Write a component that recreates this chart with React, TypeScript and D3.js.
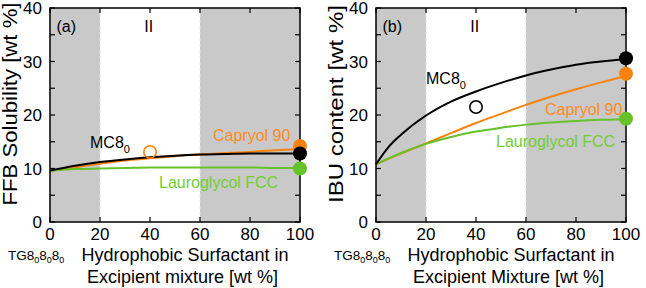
import React from "react";
import * as d3 from "d3";

const xSample = [0, 10, 20, 30, 40, 50, 60, 70, 80, 90, 100];

// Panel (a): FFB solubility
const aMC8 = [9.6, 10.5, 11.2, 11.7, 12.1, 12.4, 12.6, 12.7, 12.8, 12.8, 12.8];
const aCapryol = [9.6, 10.2, 10.9, 11.5, 11.9, 12.3, 12.6, 12.9, 13.1, 13.4, 13.6];
const aLauro = [9.6, 9.9, 10.0, 10.1, 10.2, 10.2, 10.2, 10.2, 10.2, 10.1, 10.1];
const aEndDots = { mc8: 12.8, capryol: 14.2, lauro: 10.0 };
const aOpen = { x: 40, y: 13.1 };

// Panel (b): IBU content
const bX = [0, 5, 10, 20, 30, 40, 50, 60, 70, 80, 90, 100];
const bMC8 = [10.8, 14.0, 16.3, 19.9, 22.5, 24.4, 26.0, 27.4, 28.5, 29.4, 30.0, 30.4];
const bCapryol = [10.8, 11.8, 12.8, 14.7, 16.6, 18.5, 20.2, 21.9, 23.4, 24.8, 26.1, 27.3];
const bLauro = [10.8, 11.9, 12.9, 14.6, 15.9, 16.9, 17.6, 18.2, 18.6, 18.9, 19.1, 19.2];
const bEndDots = { mc8: 30.6, capryol: 27.7, lauro: 19.3 };
const bOpen = { x: 40, y: 21.5 };

const xTicks = [0, 20, 40, 60, 80, 100];
const yTicks = [0, 10, 20, 30, 40];
const yMinor = [5, 15, 25, 35];

const BLACK = "#000";
const ORANGE = "#f7820f";
const ORANGE_T = "#ff8c1e";
const GREEN = "#66c22a";
const GREEN_T = "#6fcf2e";
const GRAY = "#c9c9c9";
const FONT = "'Liberation Sans', Arial, Helvetica, sans-serif";

type PanelProps = {
  left: number;
  letter: string;
  xs: number[];
  mc8: number[];
  cap: number[];
  lau: number[];
  dots: { mc8: number; capryol: number; lauro: number };
  open: { x: number; y: number };
  openColor: string;
  yTitle: string;
  yTitleLen: number;
  xTitle2: string;
  labels: {
    mc8: [number, number];
    cap: [number, number];
    lau: [number, number];
  };
};

function Panel(p: PanelProps) {
  const top = 8;
  const bottom = 222;
  const x = d3.scaleLinear().domain([0, 100]).range([p.left, p.left + 250]);
  const y = d3.scaleLinear().domain([0, 40]).range([bottom, top]);
  const line = d3
    .line<number>()
    .x((_, i) => x(p.xs[i]))
    .y((v) => y(v))
    .curve(d3.curveMonotoneX);
  const tl = 5;
  return (
    <g fontFamily={FONT}>
      <rect x={x(0)} y={top} width={x(100) - x(0)} height={bottom - top} fill="#fff" />
      <rect x={x(0)} y={top} width={x(20) - x(0)} height={bottom - top} fill={GRAY} />
      <rect x={x(60)} y={top} width={x(100) - x(60)} height={bottom - top} fill={GRAY} />
      {[20, 60].map((v) => (
        <line key={v} x1={x(v)} x2={x(v)} y1={top} y2={bottom} stroke="#e4e4e4" strokeDasharray="3,3" />
      ))}
      <path d={line(p.cap) || ""} fill="none" stroke={ORANGE} strokeWidth={2} />
      <path d={line(p.lau) || ""} fill="none" stroke={GREEN} strokeWidth={2} />
      <path d={line(p.mc8) || ""} fill="none" stroke={BLACK} strokeWidth={2} />
      <circle cx={x(p.open.x)} cy={y(p.open.y)} r={6.2} fill="none" stroke={p.openColor} strokeWidth={1.6} />
      {/* frame */}
      <rect x={x(0)} y={top} width={x(100) - x(0)} height={bottom - top} fill="none" stroke="#000" strokeWidth={1.5} />
      {[...yTicks, ...yMinor].map((v) => (
        <g key={"y" + v}>
          <line x1={x(0)} x2={x(0) + tl} y1={y(v)} y2={y(v)} stroke="#000" strokeWidth={1.2} />
          <line x1={x(100)} x2={x(100) - tl} y1={y(v)} y2={y(v)} stroke="#000" strokeWidth={1.2} />
        </g>
      ))}
      {xTicks.map((v) => (
        <g key={"x" + v}>
          <line x1={x(v)} x2={x(v)} y1={bottom} y2={bottom - tl} stroke="#000" strokeWidth={1.2} />
          <line x1={x(v)} x2={x(v)} y1={top} y2={top + tl} stroke="#000" strokeWidth={1.2} />
        </g>
      ))}
      {/* end dots */}
      <circle cx={x(100)} cy={y(p.dots.lauro)} r={7} fill={GREEN} />
      <circle cx={x(100)} cy={y(p.dots.capryol)} r={7} fill={ORANGE} />
      <circle cx={x(100)} cy={y(p.dots.mc8)} r={7} fill={BLACK} />
      {/* tick labels */}
      {yTicks.map((v) => (
        <text key={"yl" + v} x={x(0) - 8} y={y(v)} dy="0.36em" textAnchor="end" fontSize={17}>
          {v}
        </text>
      ))}
      {xTicks.map((v) => (
        <text key={"xl" + v} x={x(v)} y={240} textAnchor="middle" fontSize={17}>
          {v}
        </text>
      ))}
      {/* titles */}
      <text
        transform={`translate(${p.left - 33.5},${104}) rotate(-90)`}
        textAnchor="middle"
        fontSize={20}
        textLength={p.yTitleLen}
        lengthAdjust="spacingAndGlyphs"
      >
        {p.yTitle}
      </text>
      <text x={p.left - 42} y={260} fontSize={13.5}>
        TG8<tspan fontSize={9} dy={3}>0</tspan>
        <tspan dy={-3}>8</tspan>
        <tspan fontSize={9} dy={3}>0</tspan>
        <tspan dy={-3}>8</tspan>
        <tspan fontSize={9} dy={3}>0</tspan>
      </text>
      <text x={x(54)} y={260.5} textAnchor="middle" fontSize={18}>
        Hydrophobic Surfactant in
      </text>
      <text x={x(53)} y={283} textAnchor="middle" fontSize={18}>
        {p.xTitle2}
      </text>
      {/* annotations */}
      <text x={x(2.6)} y={31.5} fontSize={16}>
        ({p.letter})
      </text>
      <text x={x(39.5)} y={32} textAnchor="middle" fontSize={16}>
        II
      </text>
      <text x={p.labels.mc8[0]} y={p.labels.mc8[1]} fontSize={16} fill={BLACK}>
        MC8<tspan fontSize={11} dy={5}>0</tspan>
      </text>
      <text x={p.labels.cap[0]} y={p.labels.cap[1]} fontSize={16} fill={ORANGE_T}>
        Capryol 90
      </text>
      <text x={p.labels.lau[0]} y={p.labels.lau[1]} fontSize={16} fill={GREEN_T}>
        Lauroglycol FCC
      </text>
    </g>
  );
}

export default function App() {
  return (
    <svg
      width={646}
      height={288}
      viewBox="0 0 646 288"
      style={{ position: "absolute", left: 0, top: 0, background: "#fff" }}
    >
      <Panel
        left={50}
        letter="a"
        xs={xSample}
        mc8={aMC8}
        cap={aCapryol}
        lau={aLauro}
        dots={aEndDots}
        open={aOpen}
        openColor={ORANGE}
        yTitle="FFB Solubility [wt %]"
        yTitleLen={203}
        xTitle2="Excipient mixture [wt %]"
        labels={{ mc8: [90, 148], cap: [213, 141], lau: [159, 188] }}
      />
      <Panel
        left={376}
        letter="b"
        xs={bX}
        mc8={bMC8}
        cap={bCapryol}
        lau={bLauro}
        dots={bEndDots}
        open={bOpen}
        openColor={BLACK}
        yTitle="IBU content [wt %]"
        yTitleLen={198}
        xTitle2="Excipient Mixture [wt %]"
        labels={{ mc8: [426, 83.5], cap: [545, 115], lau: [496, 147] }}
      />
    </svg>
  );
}
